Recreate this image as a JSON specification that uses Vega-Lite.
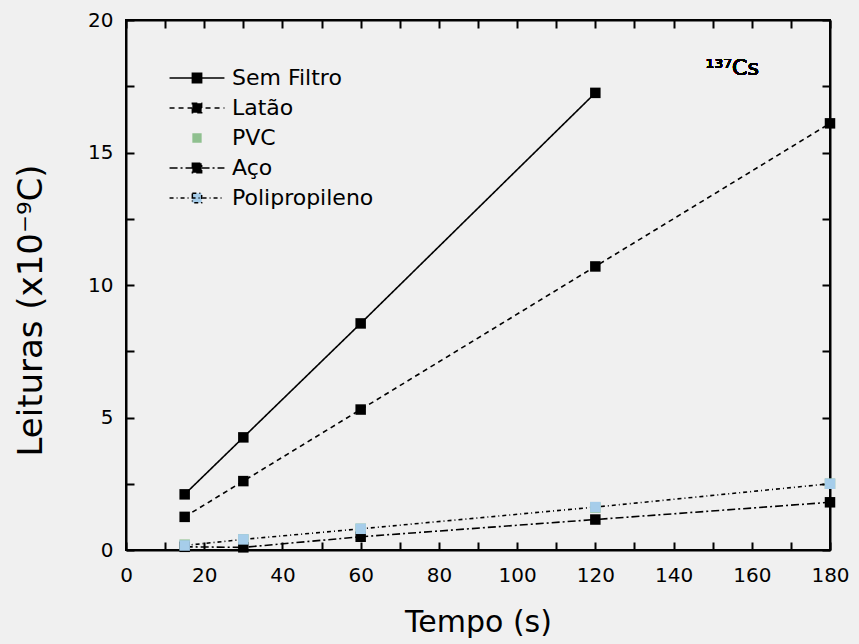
{
  "$schema": "https://vega.github.io/schema/vega-lite/v6.json",
  "width": 704,
  "height": 530,
  "autosize": {"type": "none"},
  "padding": {"left": 126, "top": 20, "right": 29, "bottom": 94},
  "background": "#f0f0f0",
  "config": {
    "font": "DejaVu Sans",
    "view": {"stroke": "black", "strokeWidth": 2},
    "axis": {
      "grid": false,
      "domainColor": "black",
      "domainWidth": 2,
      "tickColor": "black",
      "tickWidth": 2,
      "tickSize": -8,
      "labelFlush": false,
      "labelFont": "DejaVu Sans",
      "labelFontSize": 20,
      "labelColor": "black",
      "titleFont": "DejaVu Sans",
      "titleFontSize": 30,
      "titleFontWeight": "normal",
      "titleColor": "black"
    },
    "legend": {
      "symbolType": "M-1.83,0H1.83M-0.31,-0.31H0.31V0.31H-0.31Z",
      "symbolSize": 900,
      "symbolStrokeWidth": 1.5,
      "symbolStrokeColor": "black",
      "labelFont": "DejaVu Sans",
      "labelFontSize": 22,
      "labelColor": "black",
      "labelOffset": 19,
      "rowPadding": 3
    }
  },
  "data": {
    "values": [
      {"serie": "Sem Filtro", "t": 15, "v": 2.1},
      {"serie": "Sem Filtro", "t": 30, "v": 4.25},
      {"serie": "Sem Filtro", "t": 60, "v": 8.55},
      {"serie": "Sem Filtro", "t": 120, "v": 17.25},
      {"serie": "Latão", "t": 15, "v": 1.25},
      {"serie": "Latão", "t": 30, "v": 2.6},
      {"serie": "Latão", "t": 60, "v": 5.3},
      {"serie": "Latão", "t": 120, "v": 10.7},
      {"serie": "Latão", "t": 180, "v": 16.1},
      {"serie": "PVC", "t": 15, "v": 0.2},
      {"serie": "PVC", "t": 30, "v": 0.4},
      {"serie": "PVC", "t": 60, "v": 0.8},
      {"serie": "PVC", "t": 120, "v": 1.6},
      {"serie": "PVC", "t": 180, "v": 2.5},
      {"serie": "Aço", "t": 15, "v": 0.12},
      {"serie": "Aço", "t": 30, "v": 0.1},
      {"serie": "Aço", "t": 60, "v": 0.5},
      {"serie": "Aço", "t": 120, "v": 1.15},
      {"serie": "Aço", "t": 180, "v": 1.8},
      {"serie": "Polipropileno", "t": 15, "v": 0.17},
      {"serie": "Polipropileno", "t": 30, "v": 0.4},
      {"serie": "Polipropileno", "t": 60, "v": 0.8},
      {"serie": "Polipropileno", "t": 120, "v": 1.62},
      {"serie": "Polipropileno", "t": 180, "v": 2.5}
    ]
  },
  "layer": [
    {
      "mark": {"type": "line", "color": "black", "strokeWidth": 1.6},
      "encoding": {
        "x": {
          "field": "t", "type": "quantitative",
          "scale": {"domain": [0, 180], "nice": false},
          "axis": {
            "values": [0, 10, 20, 30, 40, 50, 60, 70, 80, 90, 100, 110, 120, 130, 140, 150, 160, 170, 180],
            "labelExpr": "datum.value % 20 === 0 ? datum.label : ''",
            "labelPadding": 23,
            "title": "Tempo (s)",
            "titlePadding": 22
          }
        },
        "y": {
          "field": "v", "type": "quantitative",
          "scale": {"domain": [0, 20], "nice": false},
          "axis": {
            "values": [0, 2.5, 5, 7.5, 10, 12.5, 15, 17.5, 20],
            "labelExpr": "datum.value % 5 === 0 ? datum.label : ''",
            "labelPadding": 21,
            "title": "Leituras (x10⁻⁹C)",
            "titleFontSize": 34,
            "titleY": 290,
            "titlePadding": 39
          }
        },
        "detail": {"field": "serie"},
        "strokeDash": {
          "field": "serie", "type": "nominal",
          "scale": {
            "domain": ["Sem Filtro", "Latão", "PVC", "Aço", "Polipropileno"],
            "range": [[1, 0], [5, 4], [0, 1], [8, 3, 2, 3], [4, 3, 1, 3]]
          },
          "legend": {"title": null, "orient": "none", "legendX": 55, "legendY": 42}
        }
      }
    },
    {
      "mark": {"type": "point", "shape": "square", "filled": true, "size": 110, "opacity": 1},
      "encoding": {
        "x": {"field": "t", "type": "quantitative", "axis": {"labels": false, "title": null, "values": [0, 10, 20, 30, 40, 50, 60, 70, 80, 90, 100, 110, 120, 130, 140, 150, 160, 170, 180]}},
        "y": {"field": "v", "type": "quantitative", "axis": {"labels": false, "title": null, "values": [0, 2.5, 5, 7.5, 10, 12.5, 15, 17.5, 20]}},
        "color": {
          "field": "serie", "type": "nominal",
          "scale": {
            "domain": ["Sem Filtro", "Latão", "PVC", "Aço", "Polipropileno"],
            "range": ["#000000", "#000000", "#8fc08f", "#000000", "#a6cdea"]
          },
          "legend": {"title": null, "orient": "none", "legendX": 55, "legendY": 42}
        }
      }
    },
    {
      "mark": {"type": "text", "fontSize": 22, "font": "DejaVu Sans", "color": "black"},
      "encoding": {
        "x": {"datum": 155, "type": "quantitative", "axis": null},
        "y": {"datum": 18.2, "type": "quantitative", "axis": null},
        "text": {"value": "¹³⁷Cs"}
      }
    }
  ],
  "resolve": {"axis": {"x": "independent", "y": "independent"}}
}
